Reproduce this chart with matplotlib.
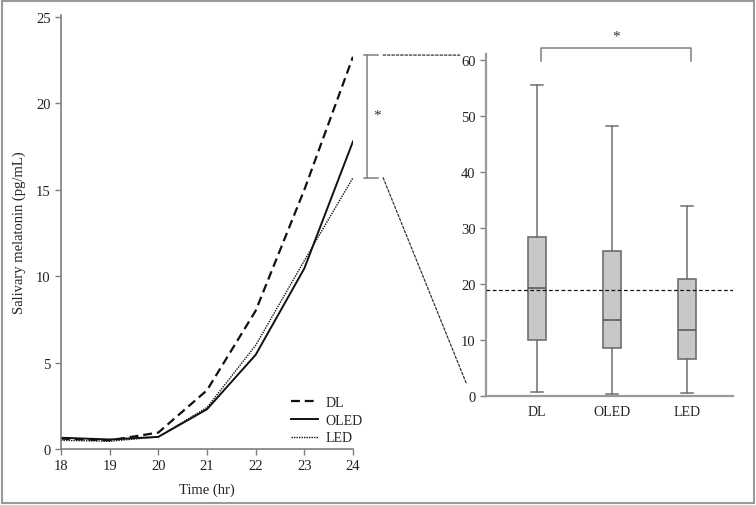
import matplotlib
matplotlib.use("Agg")
import matplotlib.pyplot as plt
from matplotlib.patches import ConnectionPatch, Rectangle

plt.rcParams['font.family'] = ['Liberation Serif', 'DejaVu Serif']

# ---- data ----
hours = [18, 19, 20, 21, 22, 23, 24]
dl = [0.6, 0.5, 0.95, 3.4, 8.0, 15.0, 22.7]
oled = [0.65, 0.55, 0.7, 2.3, 5.45, 10.45, 17.8]
led = [0.5, 0.45, 0.7, 2.4, 6.0, 10.9, 15.7]
y_ticks_left = [0, 5, 10, 15, 20, 25]

groups = ['DL', 'OLED', 'LED']
whislo = [0.7, 0.3, 0.5]
q1 = [10.0, 8.6, 6.5]
med = [19.2, 13.5, 11.8]
q3 = [28.4, 25.8, 20.9]
whishi = [55.5, 48.1, 33.9]
ref_level = 18.9
y_ticks_right = [0, 10, 20, 30, 40, 50, 60]

bracket_hi = 22.8
bracket_lo = 15.7

GRAY = '#7f7f7f'
BLACK = '#111111'

fig = plt.figure(figsize=(7.56, 5.06), dpi=100)

# border
fig.patches.append(Rectangle((0.002, 0.003), 0.995, 0.994, transform=fig.transFigure,
                             fill=False, edgecolor='#9a9a9a', linewidth=1.5))

# ---- left line chart ----
ax = fig.add_axes([0.0807, 0.1107, 0.3862, 0.8571])
ax.plot(hours, dl, color=BLACK, linestyle=(0, (4, 2.2)), linewidth=1.6, label='DL')
ax.plot(hours, oled, color=BLACK, linestyle='-', linewidth=1.4, label='OLED')
ax.plot(hours, led, color=BLACK, linestyle=(0, (1, 0.8)), linewidth=1.0, label='LED')
ax.set_xlim(18, 24)
ax.set_ylim(0, 25.1)
ax.set_yticks(y_ticks_left)
ax.set_xticks(hours)
for s in ['top', 'right']:
    ax.spines[s].set_visible(False)
for s in ['left', 'bottom']:
    ax.spines[s].set_color(GRAY)
    ax.spines[s].set_linewidth(1.2)
ax.tick_params(direction='out', length=4, width=1, color=GRAY, labelsize=10.5, labelcolor='#222222')
ax.set_xlabel('Time (hr)', fontsize=10.5, color='#222222', labelpad=7)
ax.set_ylabel('Salivary melatonin (pg/mL)', fontsize=10.5, color='#222222', labelpad=7)
leg = ax.legend(loc='lower right', bbox_to_anchor=(1.065, -0.012), frameon=False, fontsize=10,
                handlelength=1.95, handletextpad=0.5, labelspacing=0.33, borderaxespad=0.3)
for t in leg.get_texts():
    t.set_color('#222222')

# significance bracket at 24 h
bx = 24.28
ax.plot([bx, bx], [bracket_lo, bracket_hi], color=GRAY, linewidth=1.1, clip_on=False)
ax.plot([24.22, 24.52], [bracket_hi, bracket_hi], color=GRAY, linewidth=1.1, clip_on=False)
ax.plot([24.22, 24.52], [bracket_lo, bracket_lo], color=GRAY, linewidth=1.1, clip_on=False)
ax.text(24.5, (bracket_hi + bracket_lo) / 2 + 0.1, '*', fontsize=11, color='#333333',
        ha='center', va='center', clip_on=False)

# ---- right box plot ----
ax2 = fig.add_axes([0.6429, 0.216, 0.3263, 0.6753])
pos = [1, 2, 3]
stats = []
for i, g in enumerate(groups):
    stats.append(dict(label=g, whislo=whislo[i], q1=q1[i], med=med[i], q3=q3[i],
                      whishi=whishi[i], fliers=[]))
ax2.bxp(stats, positions=pos, widths=0.245, patch_artist=True, showfliers=False,
        boxprops=dict(facecolor='#c8c8c8', edgecolor='#6f6f6f', linewidth=1.2),
        medianprops=dict(color='#555555', linewidth=1.1),
        whiskerprops=dict(color='#6f6f6f', linewidth=1.1),
        capprops=dict(color='#6f6f6f', linewidth=1.1), capwidths=0.15)
ax2.set_xlim(0.32, 3.61)
ax2.set_ylim(0, 61)
ax2.set_yticks(y_ticks_right)
ax2.axhline(ref_level, color=BLACK, linestyle=(0, (3, 2)), linewidth=0.9, zorder=5)
for s in ['top', 'right']:
    ax2.spines[s].set_visible(False)
for s in ['left', 'bottom']:
    ax2.spines[s].set_color('#9a9a9a')
    ax2.spines[s].set_linewidth(1.6)
ax2.tick_params(axis='y', direction='out', length=4, width=1, color=GRAY, labelsize=10.5, labelcolor='#222222')
ax2.tick_params(axis='x', length=0, labelsize=10, labelcolor='#222222', pad=7)

# top bracket DL vs LED
ax2.plot([1.05, 1.05, 3.05, 3.05], [59.8, 62.0, 62.0, 59.8], color=GRAY, linewidth=1.1, clip_on=False)
ax2.text(2.05, 64.2, '*', fontsize=11, color='#333333', ha='center', va='center', clip_on=False)

# connecting dashed lines
con1 = ConnectionPatch(xyA=(24.62, bracket_hi), coordsA=ax.transData,
                       xyB=(-0.03, 60.8), coordsB=ax2.transData,
                       linestyle=(0, (2, 1.5)), color='#333333', linewidth=0.9)
fig.add_artist(con1)
con2 = ConnectionPatch(xyA=(24.62, bracket_lo), coordsA=ax.transData,
                       xyB=(0.06, 2.1), coordsB=ax2.transData,
                       linestyle=(0, (2, 1.5)), color='#333333', linewidth=0.9)
fig.add_artist(con2)

fig.savefig('out.png', dpi=100)
